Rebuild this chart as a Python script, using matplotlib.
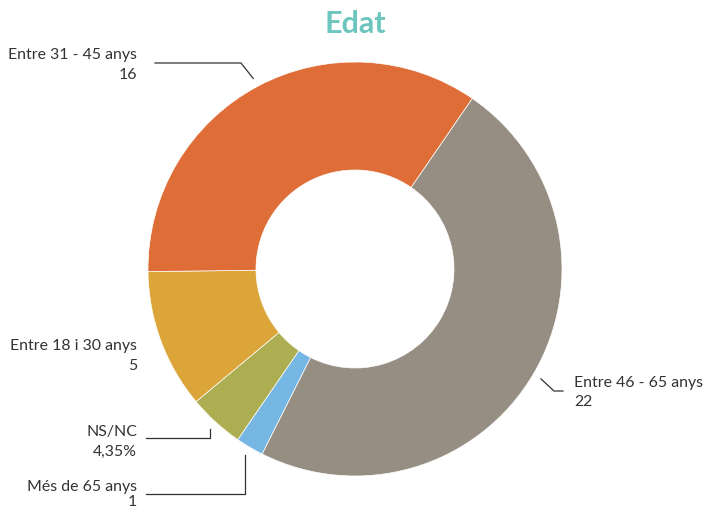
import numpy as np
import matplotlib
matplotlib.use("Agg")
import matplotlib.pyplot as plt

categories = ["Entre 46 - 65 anys", "Més de 65 anys", "NS/NC", "Entre 18 i 30 anys", "Entre 31 - 45 anys"]
values = [22, 1, 2, 5, 16]
colors = ["#968e83", "#76b6e2", "#adae52", "#dca539", "#de6d37"]
show_percent = [False, False, True, False, False]
title = "Edat"

plt.rcParams['font.family'] = ['Lato', 'DejaVu Sans']

W, H = 707, 510
fig = plt.figure(figsize=(W / 100, H / 100), dpi=100)
ax = fig.add_axes([0, 0, 1, 1])

cx, cy, R = 355, 240, 207
start = 55.5
wedges, _ = ax.pie(values, colors=colors, startangle=start, counterclock=False,
                   center=(cx, cy), radius=R, frame=True,
                   wedgeprops=dict(width=108, edgecolor='white', linewidth=0.5))
ax.set_xlim(0, W)
ax.set_ylim(0, H)
ax.axis('off')

total = sum(values)
lab = {}
for w, c, v, p in zip(wedges, categories, values, show_percent):
    mid = np.deg2rad((w.theta1 + w.theta2) / 2)
    px = cx + 216 * np.cos(mid)
    py = cy + 216 * np.sin(mid)
    txt = (f"{100 * v / total:.2f}%".replace('.', ',')) if p else str(v)
    lab[c] = (px, py, txt)

fs = 11.4
tc = '#333333'
lc = '#333333'
lw = 0.9

# Entre 31 - 45 anys
px, py, t = lab["Entre 31 - 45 anys"]
ax.text(137, H - 55, "Entre 31 - 45 anys", ha='right', va='center', fontsize=fs, color=tc)
ax.text(137, H - 75, t, ha='right', va='center', fontsize=fs, color=tc)
ax.plot([155, 241, px], [H - 64, H - 64, py], color=lc, lw=lw)

# Entre 46 - 65 anys
px, py, t = lab["Entre 46 - 65 anys"]
ax.text(574, H - 383, "Entre 46 - 65 anys", ha='left', va='center', fontsize=fs, color=tc)
ax.text(574, H - 402, t, ha='left', va='center', fontsize=fs, color=tc)
ax.plot([px, 554, 563], [py, H - 392, H - 392], color=lc, lw=lw)

# Entre 18 i 30 anys (no connector)
px, py, t = lab["Entre 18 i 30 anys"]
ax.text(137, H - 346, "Entre 18 i 30 anys", ha='right', va='center', fontsize=fs, color=tc)
ax.text(137, H - 366, t, ha='right', va='center', fontsize=fs, color=tc)

# NS/NC
px, py, t = lab["NS/NC"]
ax.text(137, H - 432, "NS/NC", ha='right', va='center', fontsize=fs, color=tc)
ax.text(137, H - 452, t, ha='right', va='center', fontsize=fs, color=tc)
ax.plot([146, px, px], [H - 439, H - 439, py], color=lc, lw=lw)

# Més de 65 anys
px, py, t = lab["Més de 65 anys"]
ax.text(137, H - 487, "Més de 65 anys", ha='right', va='center', fontsize=fs, color=tc)
ax.text(137, H - 502, t, ha='right', va='center', fontsize=fs, color=tc)
ax.plot([146, px, px], [H - 495, H - 495, py], color=lc, lw=lw)

ax.text(355, H - 24, title, ha='center', va='center', fontsize=22, fontweight='bold', color='#6cc5be')

fig.savefig("out.png", dpi=100)
